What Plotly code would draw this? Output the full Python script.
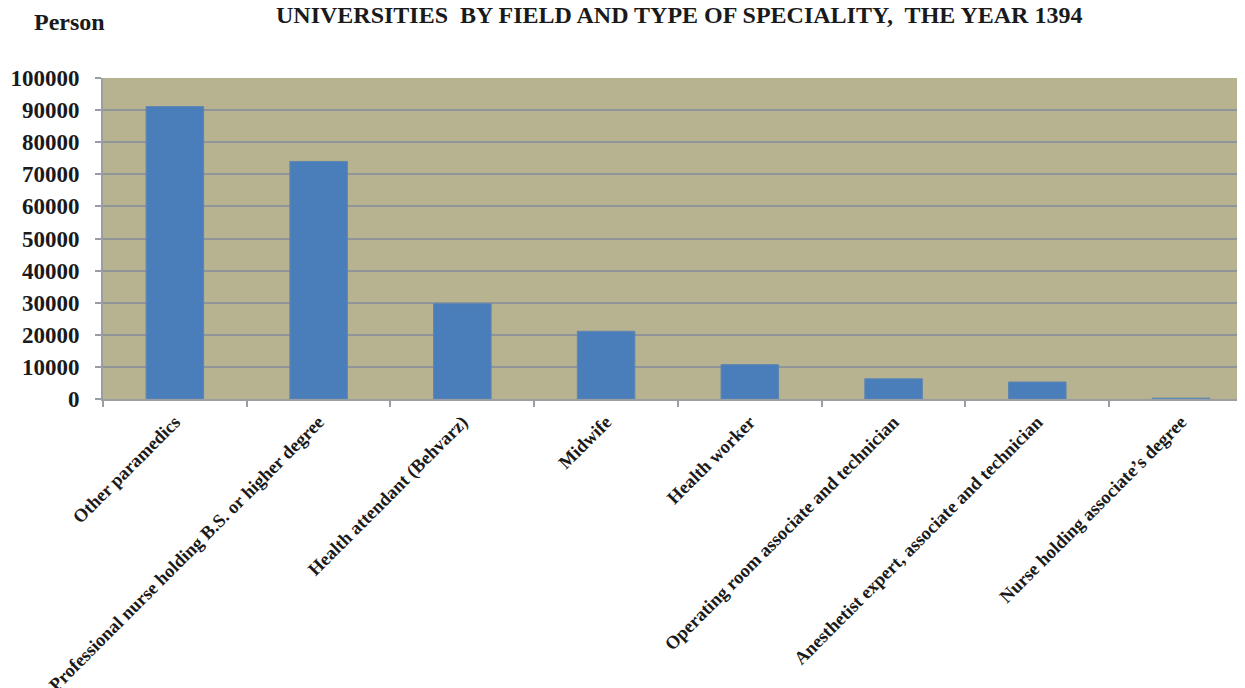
import plotly.graph_objects as go

categories = [
    "Other paramedics",
    "Professional nurse holding B.S. or higher degree",
    "Health attendant (Behvarz)",
    "Midwife",
    "Health worker",
    "Operating room associate and technician",
    "Anesthetist expert, associate and technician",
    "Nurse holding associate\u2019s degree",
]
values = [91100, 74000, 29700, 21100, 10700, 6300, 5300, 250]
y_ticks = [0, 10000, 20000, 30000, 40000, 50000, 60000, 70000, 80000, 90000, 100000]
title_text = "UNIVERSITIES  BY FIELD AND TYPE OF SPECIALITY,  THE YEAR 1394"
y_unit = "Person"

# page body has an 8px margin; lay out in window pixels and compensate
OFF = 8
W, H = 1245, 688
left, right, top, bottom = 103, 1245, 78, 399   # plot area in window pixels
ml = left - OFF
mt = top - OFF
mr = W - (right - OFF)
mb = H - (bottom - OFF)
ph = H - mt - mb
pw = W - ml - mr

FONT = "Liberation Serif"


def px_to_paper_x(xw):
    return (xw - left) / pw


def px_to_paper_y(yw):
    return (bottom - yw) / ph


fig = go.Figure()
fig.add_trace(go.Bar(
    x=categories,
    y=values,
    width=0.4,
    marker=dict(color="#4A7EBB", line=dict(color="#5E86B0", width=1)),
    hoverinfo="x+y",
))

fig.update_layout(
    width=W, height=H,
    margin=dict(l=ml, r=mr, t=mt, b=mb, pad=0, autoexpand=False),
    paper_bgcolor="white",
    plot_bgcolor="#B7B28F",
    showlegend=False,
    font=dict(family=FONT, color="#1a1a1a"),
    bargap=0.6,
)

fig.update_xaxes(
    type="category",
    range=[-0.5, 7.445],
    automargin=False,
    tickangle=-45,
    tickfont=dict(family=FONT, size=18.5, weight="bold", color="#1a1a1a"),
    ticks="outside",
    tickson="boundaries",
    ticklen=6,
    tickcolor="#9A9EA2",
    tickwidth=1.5,
    showline=True,
    linecolor="#9A9EA2",
    linewidth=2,
    showgrid=False,
    ticklabelstandoff=3,
)

fig.update_yaxes(
    range=[0, 100000],
    automargin=False,
    tickvals=y_ticks,
    ticktext=[str(v) for v in y_ticks],
    tickfont=dict(family=FONT, size=23, weight="bold", color="#1a1a1a"),
    ticks="outside",
    ticklen=6,
    tickcolor="#9A9EA2",
    tickwidth=2,
    showline=True,
    linecolor="#9A9EA2",
    linewidth=2,
    showgrid=True,
    gridcolor="#8F9498",
    gridwidth=2,
    zeroline=False,
    ticklabelstandoff=11,
)

fig.add_annotation(
    text="<b>" + title_text + "</b>",
    xref="paper", yref="paper",
    x=px_to_paper_x(679), y=px_to_paper_y(15),
    xanchor="center", yanchor="middle",
    showarrow=False,
    font=dict(family=FONT, size=24, color="#1a1a1a"),
)

fig.add_annotation(
    text="<b>" + y_unit + "</b>",
    xref="paper", yref="paper",
    x=px_to_paper_x(69), y=px_to_paper_y(22),
    xanchor="center", yanchor="middle",
    showarrow=False,
    font=dict(family=FONT, size=24, color="#1a1a1a"),
)

fig.write_html("out.html")
